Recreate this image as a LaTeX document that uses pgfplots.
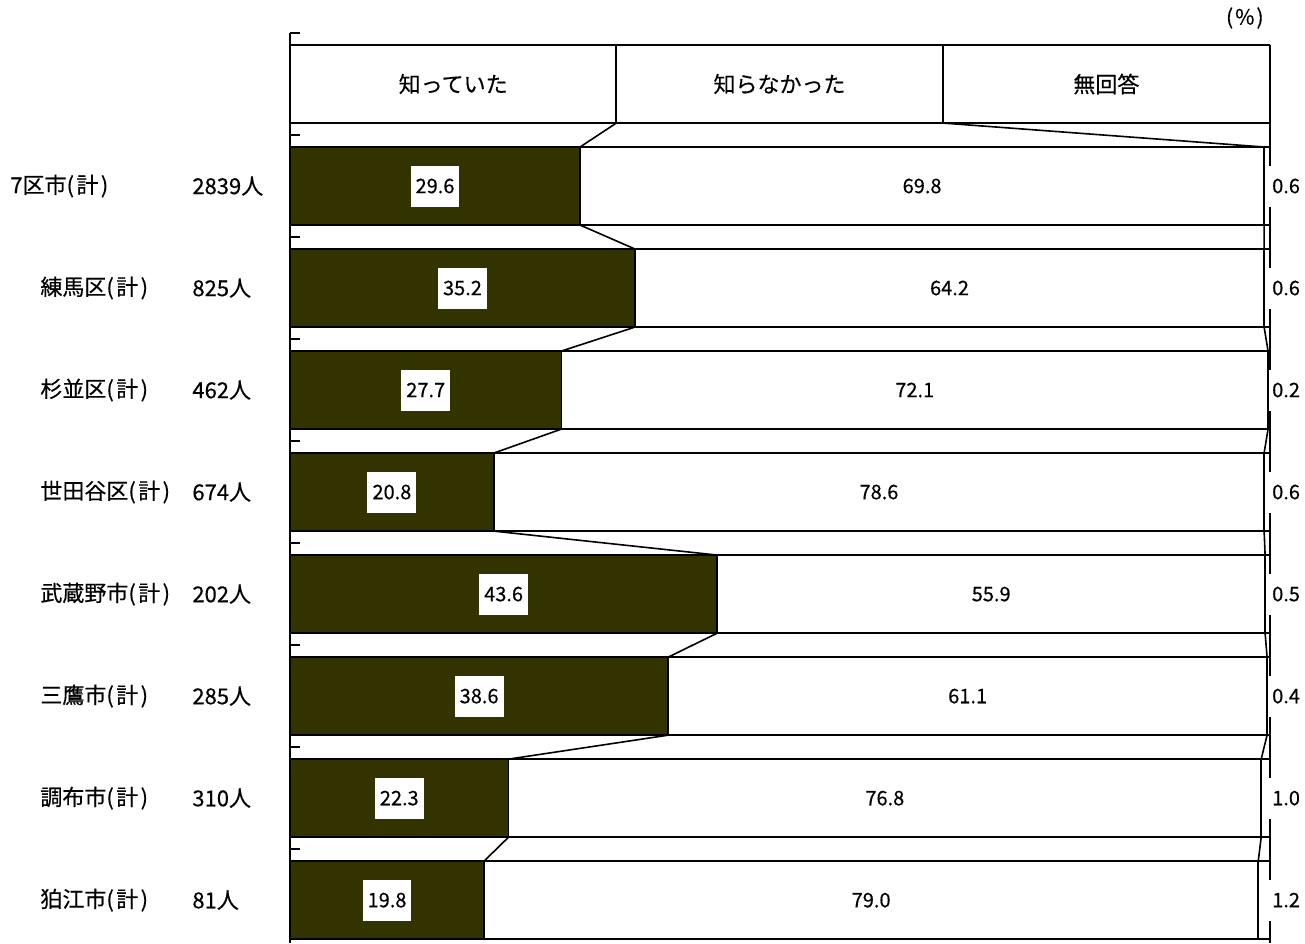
\documentclass[border=0pt]{standalone}
\usepackage{fontspec}
\setmainfont{Noto Sans CJK JP}[FakeBold=0.35]
\usepackage{pgfplots}
\pgfplotsset{compat=1.18}
\definecolor{dark}{RGB}{51,51,0}
\tikzset{
  lbl/.style={fill=white, inner xsep=2.5pt, inner ysep=0pt, minimum height=20.5pt,
    font=\fontsize{10}{12}\selectfont},
  txt/.style={font=\fontsize{11}{13}\selectfont},
}
\newcommand\kei{(\kern1.2pt 計\kern1.2pt)}

\begin{document}
\begin{tikzpicture}
\useasboundingbox (0,0) rectangle (652.5pt,471.5pt);
\pgfplotsset{
  geom/.style={scale only axis, width=490pt, height=455pt,
    at={(145pt,455pt)}, anchor=north west,
    xmin=0, xmax=100, ymin=-0.5, ymax=8.42, y dir=reverse},
}
% bars (row 0 = header boxes)
\begin{axis}[geom, hide axis, xbar stacked, bar width=0.765,
  every axis plot/.append style={draw=black, line width=0.85pt}]
\addplot[fill=white] coordinates {(33.3,0) (0,1) (0,2) (0,3) (0,4) (0,5) (0,6) (0,7) (0,8)};
\addplot[fill=dark] coordinates {(0,0) (29.6,1) (35.2,2) (27.7,3) (20.8,4) (43.6,5) (38.6,6) (22.3,7) (19.8,8)};
\addplot[fill=white] coordinates {(33.3,0) (69.8,1) (64.2,2) (72.1,3) (78.6,4) (55.9,5) (61.1,6) (76.8,7) (79.0,8)};
\addplot[fill=white] coordinates {(33.4,0) (0.6,1) (0.6,2) (0.2,3) (0.6,4) (0.5,5) (0.4,6) (1.0,7) (1.2,8)};
\end{axis}

% frame, connectors, labels
\begin{axis}[geom, clip=false, axis x line=none, axis y line*=left,
  xtick=\empty, ytick={-0.5,0.5,...,7.5}, yticklabels={},
  tick align=inside, major tick length=5pt,
  y axis line style={line width=0.85pt}, tick style={black, line width=0.85pt}]
\addplot[black, line width=0.85pt] coordinates {(100,-0.3825) (100,8.42)};
\addplot[black, line width=0.8pt, unbounded coords=jump] coordinates {
(33.3,0.3825) (29.6,0.6175) (nan,nan)
(29.6,1.3825) (35.2,1.6175) (nan,nan)
(35.2,2.3825) (27.7,2.6175) (nan,nan)
(27.7,3.3825) (20.8,3.6175) (nan,nan)
(20.8,4.3825) (43.6,4.6175) (nan,nan)
(43.6,5.3825) (38.6,5.6175) (nan,nan)
(38.6,6.3825) (22.3,6.6175) (nan,nan)
(22.3,7.3825) (19.8,7.6175) (nan,nan)
(66.6,0.3825) (99.4,0.6175) (nan,nan)
(99.4,1.3825) (99.4,1.6175) (nan,nan)
(99.4,2.3825) (99.8,2.6175) (nan,nan)
(99.8,3.3825) (99.4,3.6175) (nan,nan)
(99.4,4.3825) (99.5,4.6175) (nan,nan)
(99.5,5.3825) (99.7,5.6175) (nan,nan)
(99.7,6.3825) (99.1,6.6175) (nan,nan)
(99.1,7.3825) (98.8,7.6175)
};
\node[txt] at (axis cs:16.65,0) {知っていた};
\node[txt] at (axis cs:49.95,0) {知らなかった};
\node[txt] at (axis cs:83.3,0) {無回答};
\node[anchor=east, font=\fontsize{10.5}{12}\selectfont, inner xsep=0pt] at ([xshift=-3pt,yshift=7.5pt]axis cs:100,-0.5) {(\kern1pt\%\kern1pt)};
\foreach \k/\a/\b/\c in {1/29.6/69.8/0.6, 2/35.2/64.2/0.6, 3/27.7/72.1/0.2, 4/20.8/78.6/0.6,
    5/43.6/55.9/0.5, 6/38.6/61.1/0.4, 7/22.3/76.8/1.0, 8/19.8/79.0/1.2} {
  \pgfmathsetmacro\xa{\a/2}
  \pgfmathsetmacro\xb{\a+\b/2}
  \edef\tmp{\noexpand\node[lbl] at (axis cs:\xa,\k) {\a};
    \noexpand\node[lbl, fill=none] at (axis cs:\xb,\k) {\b};
    \noexpand\node[lbl, anchor=west, inner xsep=1.5pt, xshift=-0.6pt] at (axis cs:100,\k) {\c};}
  \tmp
}
\foreach \k/\n/\p/\x in {1/7区市/2839人/-140pt, 2/練馬区/825人/-125pt, 3/杉並区/462人/-125pt,
    4/世田谷区/674人/-125pt, 5/武蔵野市/202人/-125pt, 6/三鷹市/285人/-125pt,
    7/調布市/310人/-125pt, 8/狛江市/81人/-125pt} {
  \edef\tmp{\noexpand\node[txt, anchor=west, inner xsep=0pt] at ([xshift=\x]axis cs:0,\k) {\n\noexpand\kei};
    \noexpand\node[txt, anchor=west, inner xsep=0pt] at ([xshift=-49pt]axis cs:0,\k) {\p};}
  \tmp
}
\end{axis}
\end{tikzpicture}
\end{document}
